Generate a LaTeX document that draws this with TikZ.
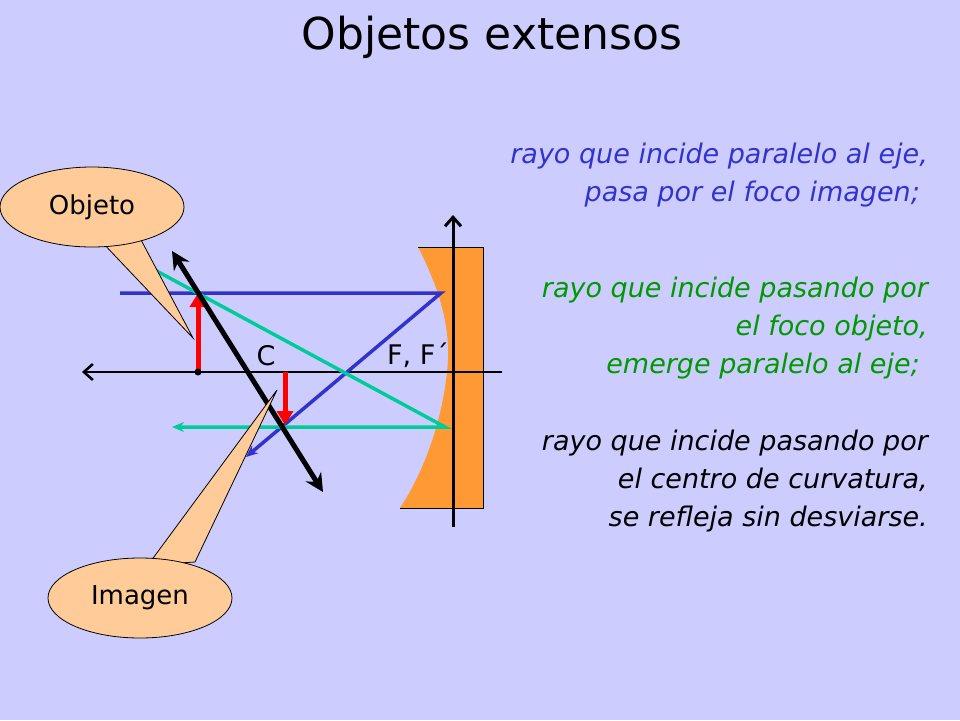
\documentclass[tikz,border=0pt]{standalone}
\usepackage{fontspec}
\setmainfont{DejaVu Sans}
\usetikzlibrary{arrows.meta,shapes.geometric}
\definecolor{bg}{HTML}{CCCCFF}
\definecolor{rayblue}{HTML}{3333CC}
\definecolor{raygreen}{HTML}{00CC99}
\definecolor{txtgreen}{HTML}{009900}
\definecolor{mirror}{HTML}{FF9933}
\definecolor{bubble}{HTML}{FFCC99}
\tikzset{
  ray/.style={line width=3.5pt},
  bub/.style={draw=black,fill=bubble,line width=0.8pt},
  expl/.style={font=\fontsize{27}{38}\selectfont\itshape,align=right,anchor=north east,inner sep=0pt}
}
\begin{document}
\begin{tikzpicture}[x=1pt,y=-1pt]
\fill[bg] (0,0) rectangle (960,720);
\useasboundingbox (0,0) rectangle (960,720);
\node (title) at (492,37) {\fontsize{44}{50}\selectfont Objetos extensos};
% mirror
\fill[mirror] (418,247) .. controls (440,290) and (452,330) .. (447,372) .. controls (442,420) and (425,470) .. (400,508) -- (483,508) -- (483,247) -- cycle;
\draw[line width=0.8pt] (418,247) -- (483,247) -- (483,508) -- (400,508);
% axes
\coordinate (axR) at (502,372); \coordinate (axL) at (82,372);
\draw[line width=2.5pt,-{Straight Barb[length=9pt,width=16pt]}] (axR) -- (axL);
\coordinate (vB) at (453,527); \coordinate (vT) at (453,215);
\draw[line width=3pt,-{Straight Barb[length=9pt,width=16pt]}] (vB) -- (vT);
% rays
\coordinate (b0) at (120,293); \coordinate (b1) at (441,293); \coordinate (b2) at (246,457);
\draw[ray,rayblue,-{Stealth[length=12pt,width=10pt]}] (b0) -- (b1) -- (b2);
\coordinate (g0) at (153,269); \coordinate (g1) at (445,427); \coordinate (g2) at (172,427);
\draw[ray,raygreen,-{Stealth[length=12pt,width=10pt]}] (g0) -- (g1) -- (g2);
% object & image
\coordinate (oB) at (198,372); \coordinate (oT) at (198,293);
\draw[line width=5pt,red,-{Triangle[length=14pt,width=16pt]}] (oB) -- (oT);
\fill (oB) circle (3.5pt);
\coordinate (iT) at (285,372); \coordinate (iB) at (285,425);
\draw[line width=5pt,red,-{Triangle[length=14pt,width=16pt]}] (iT) -- (iB);
% black line
\coordinate (k0) at (323,492); \coordinate (k1) at (172,251);
\draw[line width=5pt,{Stealth[length=18pt,width=18pt]}-{Stealth[length=18pt,width=18pt]}] (k0) -- (k1);
\node (C) at (266,356) {\fontsize{27}{30}\selectfont C};
\node (F) at (418,355) {\fontsize{27}{30}\selectfont F, F´};
% callouts
\coordinate (otip) at (193,338);
\draw[bub] (100,240) -- (otip) -- (140,238) -- cycle;
\node[bub,ellipse,minimum width=184pt,minimum height=80pt] (obj) at (92,207) {\fontsize{26}{30}\selectfont Objeto};
\coordinate (itip) at (277,390);
\draw[bub] (148,565) -- (itip) -- (195,562) -- cycle;
\node[bub,ellipse,minimum width=184pt,minimum height=80pt] (img) at (140,598) {\fontsize{26}{30}\selectfont Imagen};
% explanations
\node[expl,rayblue] (t1) at (928,143) {rayo que incide paralelo al eje,\\pasa por el foco imagen;\hspace*{8pt}};
\node[expl,txtgreen] (t2) at (928,277) {rayo que incide pasando por\\el foco objeto,\\emerge paralelo al eje;\hspace*{8pt}};
\node[expl,black] (t3) at (928,430) {rayo que incide pasando por\\el centro de curvatura,\\se refleja sin desviarse.};
\end{tikzpicture}
\end{document}
